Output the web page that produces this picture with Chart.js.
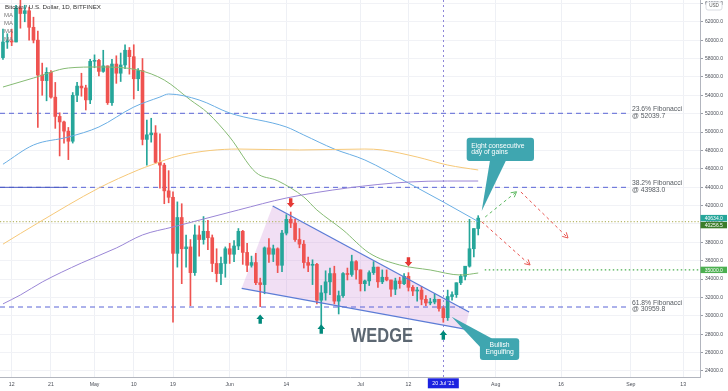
<!DOCTYPE html>
<html>
<head>
<meta charset="utf-8">
<script src="https://cdn.jsdelivr.net/npm/chart.js@4.4.1/dist/chart.umd.min.js"></script>
<style>
  html, body { margin: 0; padding: 0; background: #fff; }
  canvas { display: block; }
</style>
</head>
<body>
<canvas id="chart" width="728" height="391"></canvas>
<script>
// BTC/USD daily candles (Bitfinex), 10 Apr - 28 Jul 2021
const dates = [
  '04-10','04-11','04-12','04-13','04-14','04-15','04-16','04-17','04-18','04-19','04-20',
  '04-21','04-22','04-23','04-24','04-25','04-26','04-27','04-28','04-29','04-30',
  '05-01','05-02','05-03','05-04','05-05','05-06','05-07','05-08','05-09','05-10',
  '05-11','05-12','05-13','05-14','05-15','05-16','05-17','05-18','05-19','05-20',
  '05-21','05-22','05-23','05-24','05-25','05-26','05-27','05-28','05-29','05-30','05-31',
  '06-01','06-02','06-03','06-04','06-05','06-06','06-07','06-08','06-09','06-10',
  '06-11','06-12','06-13','06-14','06-15','06-16','06-17','06-18','06-19','06-20',
  '06-21','06-22','06-23','06-24','06-25','06-26','06-27','06-28','06-29','06-30',
  '07-01','07-02','07-03','07-04','07-05','07-06','07-07','07-08','07-09','07-10',
  '07-11','07-12','07-13','07-14','07-15','07-16','07-17','07-18','07-19','07-20',
  '07-21','07-22','07-23','07-24','07-25','07-26','07-27','07-28'
];
const opens = [
  58100,59800,59900,59800,63500,62900,63200,61400,60000,56200,55600,56500,53800,51700,51100,50100,49000,54000,55000,54800,53500,
  57700,57800,56600,57200,53200,57400,56400,57300,58900,58200,55800,56700,49200,49700,49900,46700,46400,43600,42900,36800,40700,37300,37500,34700,38800,38300,39200,38500,35700,34600,35700,
  37300,36700,37600,39200,36900,35500,35800,33600,33400,37400,36700,37300,35500,39000,40500,40100,38300,37800,35800,35500,35600,31700,32500,33700,34600,31600,32200,34600,34500,35900,
  35000,33500,33800,34700,35300,33700,34200,33900,32900,33800,33500,34300,33100,32700,32800,31800,31400,31500,31800,30800,29800,32100,32300,33600,34300,35400,37300,39500
];
const highs = [
  61200,60700,61200,63800,64850,63800,63600,62500,61000,57500,57000,56700,55400,52100,51200,50500,54300,55400,56400,55100,57900,
  58400,57900,58900,57200,57900,58300,58600,59500,59200,59500,56900,58000,51300,51500,50700,49800,46600,45800,43500,42400,42200,38800,38300,39900,39800,40800,40400,38800,37300,36400,37500,
  37900,38200,39500,39300,37900,36500,36800,34100,37500,38400,37700,37400,39300,41000,41300,40500,39500,38200,36400,36100,35700,33300,34900,35200,35400,32700,34700,35200,36600,36000,
  35000,33900,34900,35900,35300,35000,35000,33900,34100,34200,34600,34700,33300,33100,33200,32200,31900,32400,31800,31000,32800,32600,33600,34500,35400,40500,39500,40900
];
const lows = [
  57900,59100,59400,59800,61300,62000,60000,59700,50500,54000,53400,53700,50400,47400,48800,47000,48800,53300,53900,52400,53100,
  57000,56100,56500,53000,52900,55300,55500,56900,56300,53600,54500,48600,46400,48900,46600,43900,42200,42300,29300,35300,33500,35300,31100,34400,36500,37800,37200,34800,33700,33400,34200,
  35700,35900,37200,35600,34800,35300,33400,31000,32400,35800,35900,34700,34800,38800,39600,38100,37400,35200,34800,33400,31300,28800,31700,32300,31300,30200,32000,33900,34300,34000,
  32700,32700,33300,34500,33100,33500,33800,32100,32300,33000,33400,32700,32200,31600,31200,31100,31200,31300,30500,29300,29500,31700,32000,33400,33900,35300,36400,38800
];
const closes = [
  59800,59900,59800,63500,62900,63200,61400,60000,56200,55600,56500,53800,51700,51100,50100,49000,54000,55000,54800,53500,57700,
  57800,56600,57200,53200,57400,56400,57300,58900,58200,55800,56700,49200,49700,49900,46700,46400,43600,42900,36800,40700,37300,37500,34700,38800,38300,39200,38500,35700,34600,35700,37300,
  36700,37600,39200,36900,35500,35800,33600,33400,37400,36700,37300,35500,39000,40500,40100,38300,37800,35800,35500,35600,31700,32500,33700,34600,31600,32200,34600,34500,35900,35000,
  33500,33800,34700,35300,33700,34200,33900,32900,33800,33500,34300,33100,32700,32800,31800,31400,31500,31800,30800,29800,32100,32300,33600,34300,35400,37300,39500,40634
];

// moving averages: [date, value]
const maGreen = [['04-10',54900],['04-17',55880],['04-25',56970],['05-02',57080],['05-11',56750],['05-17',55660],
  ['05-23',53490],['05-27',52070],['06-01',49460],['06-07',45600],['06-12',44700],['06-18',42930],['06-21',41520],
  ['06-27',39340],['07-03',36840],['07-10',35530],['07-17',34990],['07-24',34440],['07-28',34660]];
const maBlue = [['04-10',46500],['04-17',48590],['04-25',49460],['05-02',50550],['05-10',52720],['05-16',53810],
  ['05-18',54140],['05-25',53490],['06-01',52070],['06-14',50550],['06-18',49680],['06-25',48150],['07-02',46960],
  ['07-12',44450],['07-20',42390],['07-28',40260]];
const maOrange = [['04-10',37800],['04-18',40100],['05-02',43910],['05-11',45870],['05-14',46410],['05-21',47500],
  ['06-03',48150],['06-17',48050],['07-02',48150],['07-06',48050],['07-14',47280],['07-21',46410],['07-28',45870]];
const maPurple = [['04-10',31300],['04-14',32270],['04-19',33680],['04-28',35750],['05-06',37380],['05-12',38800],
  ['05-19',39670],['06-03',41520],['06-14',42820],['06-28',43910],['07-12',44560],['07-21',44670],['07-28',44670]];

// axes
const xTickDates = ['04-12','04-21','05-01','05-10','05-19','06-01','06-14','07-01','07-12','08-01','08-16','09-01','09-13'];
const xTickLabels = ['12','21','May','10','19','Jun','14','Jul','12','Aug','16','Sep','13'];
const yTicks = [24000,26000,28000,30000,32000,34000,36000,38000,40000,42000,44000,46000,48000,50000,52000,54000,56000,58000,60000,62000,64000];

// levels and drawings (x in days from 12 Apr 2021, y in USD)
const fibLevels = [52039.7, 43983.0, 30959.8];
const fibNames = ['23.6% Fibonacci', '38.2% Fibonacci', '61.8% Fibonacci'];
const lastPrice = 40634.0;
const maLevel = 40256.5;
const targetLevel = 35000.0;
const wedgePts = [[52.75, 32994], [59.86, 41951], [104.9, 30416], [104.0, 28565]];
const downMarks = [[64, 42280], [91, 35860]];
const upMarks = [[57, 29650], [71, 28570], [99, 27910]];
const greenPath = [[108.6, 40754], [115.8, 43507]];
const redPaths = [[[116.8, 43475], [127.6, 38469]], [[107.8, 40243], [118.9, 35530]]];
const crossDay = 99;

const BASE = Date.UTC(2021, 3, 12);
function dayOf(md) {
  const [m, d] = md.split('-').map(Number);
  return (Date.UTC(2021, m - 1, d) - BASE) / 864e5;
}
const toXY = arr => arr.map(([d, v]) => ({ x: dayOf(d), y: v }));

const UP = '#26a69a', DOWN = '#ef5350';
const candleColors = closes.map((c, i) => c >= opens[i] ? UP : DOWN);
const xs = dates.map(dayOf);
const FONT = "'Liberation Sans', Arial, sans-serif";
Chart.defaults.font.family = FONT;

function seg(ctx, x1, y1, x2, y2) {
  ctx.beginPath(); ctx.moveTo(x1, y1); ctx.lineTo(x2, y2); ctx.stroke();
}

function mark(ctx, cx, cy, dir, color) {
  // dir 1 = pointing down, -1 = up
  ctx.fillStyle = color;
  ctx.beginPath();
  ctx.moveTo(cx - 1.7, cy - 4.8 * dir);
  ctx.lineTo(cx + 1.7, cy - 4.8 * dir);
  ctx.lineTo(cx + 1.7, cy);
  ctx.lineTo(cx + 3.8, cy);
  ctx.lineTo(cx, cy + 4.6 * dir);
  ctx.lineTo(cx - 3.8, cy);
  ctx.lineTo(cx - 1.7, cy);
  ctx.closePath();
  ctx.fill();
}

function dashArrow(ctx, a, b, color) {
  ctx.strokeStyle = color;
  ctx.lineWidth = 1;
  ctx.setLineDash([3, 3]);
  seg(ctx, a.x, a.y, b.x, b.y);
  ctx.setLineDash([]);
  const ang = Math.atan2(b.y - a.y, b.x - a.x);
  [-0.5, 0.5].forEach(s => {
    const t = ang + Math.PI + s;
    seg(ctx, b.x, b.y, b.x + 6 * Math.cos(t), b.y + 6 * Math.sin(t));
  });
}

const overlay = {
  id: 'overlay',
  beforeDatasetsDraw(chart) {
    const { ctx, chartArea: a, scales: { x, y } } = chart;
    const P = (d, v) => ({ x: x.getPixelForValue(d), y: y.getPixelForValue(v) });
    ctx.save();
    ctx.beginPath(); ctx.rect(a.left, a.top, a.right - a.left, a.bottom - a.top); ctx.clip();

    // wedge area
    ctx.beginPath();
    wedgePts.forEach(([d, v], i) => { const p = P(d, v); i ? ctx.lineTo(p.x, p.y) : ctx.moveTo(p.x, p.y); });
    ctx.closePath();
    ctx.fillStyle = 'rgba(205,140,215,0.28)';
    ctx.fill();

    // fibonacci levels
    const fibEnd = x.getPixelForValue(141.1);
    ctx.strokeStyle = '#5a64d6';
    ctx.lineWidth = 1;
    ctx.setLineDash([5, 4]);
    fibLevels.forEach(v => seg(ctx, a.left, y.getPixelForValue(v), fibEnd, y.getPixelForValue(v)));
    ctx.setLineDash([]);
    ctx.strokeStyle = '#4c5cc4';
    seg(ctx, a.left, y.getPixelForValue(fibLevels[1]), x.getPixelForValue(12.7), y.getPixelForValue(fibLevels[1]));

    // dotted price levels
    ctx.lineWidth = 1.2;
    ctx.strokeStyle = '#b9b96e';
    ctx.setLineDash([1.2, 2]);
    seg(ctx, a.left, y.getPixelForValue(maLevel), a.right, y.getPixelForValue(maLevel));
    ctx.strokeStyle = '#4caf50';
    ctx.setLineDash([1.5, 2.5]);
    seg(ctx, x.getPixelForValue(108.5), y.getPixelForValue(targetLevel), a.right, y.getPixelForValue(targetLevel));

    // crosshair
    ctx.lineWidth = 1;
    ctx.strokeStyle = '#8d86d8';
    ctx.setLineDash([2, 3]);
    const cx = Math.round(x.getPixelForValue(crossDay)) + 0.5;
    seg(ctx, cx, a.top, cx, a.bottom);
    ctx.restore();
  },
  afterDatasetsDraw(chart) {
    const { ctx, chartArea: a, scales: { x, y } } = chart;
    const P = (d, v) => ({ x: x.getPixelForValue(d), y: y.getPixelForValue(v) });
    ctx.save();
    ctx.beginPath(); ctx.rect(a.left, a.top, a.right - a.left, a.bottom - a.top); ctx.clip();

    // wedge borders
    const w = wedgePts.map(([d, v]) => P(d, v));
    ctx.strokeStyle = '#5c7cd6';
    ctx.lineWidth = 1.3;
    seg(ctx, w[1].x, w[1].y, w[2].x, w[2].y);
    seg(ctx, w[0].x, w[0].y, w[3].x, w[3].y);

    // marks
    downMarks.forEach(([d, v]) => { const p = P(d, v); mark(ctx, p.x, p.y, 1, '#e53935'); });
    upMarks.forEach(([d, v]) => { const p = P(d, v); mark(ctx, p.x, p.y, -1, '#00897b'); });

    // projected paths
    dashArrow(ctx, P(...greenPath[0]), P(...greenPath[1]), '#5cb860');
    redPaths.forEach(r => dashArrow(ctx, P(...r[0]), P(...r[1]), '#e8534f'));

    // WEDGE label
    const wc = P(84.9, 27800);
    ctx.fillStyle = '#5c6772';
    ctx.font = '600 21px ' + FONT;
    ctx.textAlign = 'center';
    ctx.textBaseline = 'middle';
    const ww = ctx.measureText('WEDGE').width;
    ctx.save();
    ctx.translate(wc.x, wc.y);
    ctx.scale(62 / ww, 1);
    ctx.fillText('WEDGE', 0, 0);
    ctx.restore();

    // callouts
    const teal = '#3fa6b0';
    ctx.fillStyle = teal;
    const t1 = P(107.8, 41407);
    ctx.beginPath(); ctx.roundRect(t1.x - 15, t1.y - 73.3, 67.3, 23.3, 3); ctx.fill();
    ctx.beginPath(); ctx.moveTo(t1.x, t1.y); ctx.lineTo(t1.x + 8.3, t1.y - 50.5); ctx.lineTo(t1.x + 24.3, t1.y - 50.5); ctx.closePath(); ctx.fill();
    const t2 = P(100.9, 29904);
    ctx.beginPath(); ctx.roundRect(t2.x + 28.3, t2.y + 21.6, 39.3, 21.7, 3); ctx.fill();
    ctx.beginPath(); ctx.moveTo(t2.x, t2.y); ctx.lineTo(t2.x + 28.5, t2.y + 30.3); ctx.lineTo(t2.x + 40.3, t2.y + 21.8); ctx.closePath(); ctx.fill();

    ctx.fillStyle = '#ffffff';
    ctx.font = '6.8px ' + FONT;
    ctx.textAlign = 'left';
    ctx.fillText('Eight consecutive', t1.x - 10.5, t1.y - 65.3);
    ctx.fillText('day of gains', t1.x - 10.5, t1.y - 58.6);
    ctx.textAlign = 'center';
    ctx.fillText('Bullish', t2.x + 48, t2.y + 28.4);
    ctx.fillText('Engulfing', t2.x + 48, t2.y + 35.8);

    // fibonacci texts
    ctx.fillStyle = '#555a60';
    ctx.font = '6.8px ' + FONT;
    ctx.textAlign = 'left';
    const fx = x.getPixelForValue(141.1) + 5;
    fibLevels.forEach((v, i) => {
      const fy = y.getPixelForValue(v);
      ctx.fillText(fibNames[i], fx, fy - 4.3);
      ctx.fillText('@ ' + v.toFixed(1), fx, fy + 2.5);
    });

    // title + indicator legend
    ctx.fillStyle = '#333';
    ctx.font = '6.2px ' + FONT;
    ctx.fillText('Bitcoin / U.S. Dollar, 1D, BITFINEX', 5, 7);
    ctx.fillStyle = '#777';
    ctx.font = '6px ' + FONT;
    [15, 23, 31, 39].forEach(ty => ctx.fillText('MA', 4, ty));
    ctx.restore();
  },
  afterDraw(chart) {
    const { ctx, chartArea: a, scales: { x, y } } = chart;
    ctx.save();
    ctx.font = '5px ' + FONT;
    ctx.textAlign = 'center';
    ctx.textBaseline = 'middle';
    const box = (cy, bg, txt) => {
      ctx.fillStyle = bg;
      ctx.fillRect(a.right + 0.5, cy - 3.2, 26.5, 6.4);
      ctx.fillStyle = '#fff';
      ctx.fillText(txt, a.right + 13.8, cy + 0.3);
    };
    const ly = y.getPixelForValue(lastPrice);
    box(ly, '#26a69a', lastPrice.toFixed(1));
    box(ly + 7, '#3b7d2b', maLevel.toFixed(1));
    box(y.getPixelForValue(targetLevel), '#4caf50', targetLevel.toFixed(1));

    // currency badge
    ctx.fillStyle = '#fff';
    ctx.strokeStyle = '#d0d3da';
    ctx.lineWidth = 0.8;
    ctx.beginPath(); ctx.roundRect(a.right + 6, 2, 16, 8, 2); ctx.fill(); ctx.stroke();
    ctx.fillStyle = '#555';
    ctx.font = '4.6px ' + FONT;
    ctx.fillText('USD', a.right + 14, 6.2);

    // crosshair date
    const cx = x.getPixelForValue(crossDay);
    ctx.fillStyle = '#1c22e0';
    ctx.fillRect(cx - 15.5, a.bottom + 1.3, 31, 10);
    ctx.fillStyle = '#fff';
    ctx.font = '5.2px ' + FONT;
    ctx.fillText("20 Jul '21", cx, a.bottom + 6.5);
    ctx.restore();
  }
};

const lineBase = { type: 'line', pointRadius: 0, borderWidth: 1, tension: 0.4, cubicInterpolationMode: 'monotone', fill: false, order: 0 };

new Chart(document.getElementById('chart'), {
  type: 'bar',
  data: {
    datasets: [
      { ...lineBase, data: toXY(maPurple), borderColor: '#9a86d6' },
      { ...lineBase, data: toXY(maOrange), borderColor: '#f6c878' },
      { ...lineBase, data: toXY(maBlue), borderColor: '#6aaee4' },
      { ...lineBase, data: toXY(maGreen), borderColor: '#86bb74' },
      {
        data: xs.map((d, i) => ({ x: d, y: [opens[i], closes[i]] })),
        backgroundColor: candleColors, barThickness: 3, minBarLength: 1, grouped: false, order: 5
      },
      {
        data: xs.map((d, i) => ({ x: d, y: [lows[i], highs[i]] })),
        backgroundColor: candleColors, barThickness: 1, grouped: false, order: 6
      }
    ]
  },
  options: {
    responsive: false,
    animation: false,
    devicePixelRatio: 1,
    events: [],
    layout: { padding: 0 },
    plugins: { legend: { display: false }, tooltip: { enabled: false } },
    scales: {
      x: {
        type: 'linear',
        min: -2.68,
        max: 157.87,
        offset: false,
        grid: { color: '#eef0f5', offset: false, drawTicks: false },
        border: { color: '#b2b5be' },
        afterBuildTicks: s => { s.ticks = xTickDates.map(d => ({ value: dayOf(d) })); },
        ticks: {
          autoSkip: false, maxRotation: 0, padding: 4, color: '#4a4e57',
          font: { size: 5.2 },
          callback: (v, i) => xTickLabels[i]
        },
        afterFit: s => { s.height = 14; s.paddingLeft = 0; s.paddingRight = 0; }
      },
      y: {
        type: 'linear',
        position: 'right',
        min: 23343,
        max: 64370,
        beginAtZero: false,
        grid: { color: '#f1f2f6', tickLength: 3, tickColor: '#9a9ea8' },
        border: { color: '#b2b5be' },
        afterBuildTicks: s => { s.ticks = yTicks.map(v => ({ value: v })); },
        ticks: {
          padding: 2, color: '#4a4e57',
          font: { size: 5 },
          callback: v => v.toFixed(1)
        },
        afterFit: s => { s.width = 28; s.paddingTop = 0; s.paddingBottom = 0; }
      }
    }
  },
  plugins: [overlay]
});
</script>
</body>
</html>
